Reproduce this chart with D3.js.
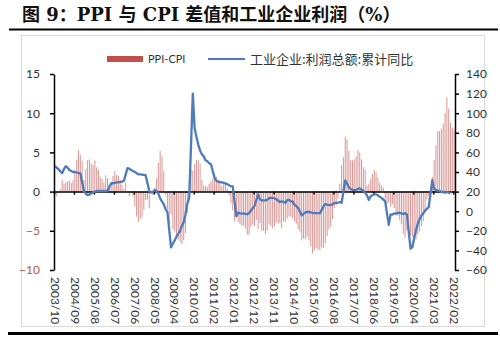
<!DOCTYPE html>
<html><head><meta charset="utf-8">
<script src="https://cdn.jsdelivr.net/npm/d3@7"></script>
<style>
html,body{margin:0;padding:0;background:#fff;}
svg{display:block;}
</style></head>
<body>
<svg id="chart" width="500" height="338"></svg>
<script>
// ---------- data ----------
const startYear = 2003, startMonth = 10, endYear = 2022, endMonth = 2;
const titleText = "图 9：PPI 与 CPI 差值和工业企业利润（%）";
const seriesNames = ["PPI-CPI", "工业企业:利润总额:累计同比"];
const leftTicks = [-10, -5, 0, 5, 10, 15];
const rightTicks = [-60, -40, -20, 0, 20, 40, 60, 80, 100, 120, 140];

// PPI-CPI (left axis), monthly 2003/10 .. 2022/02
const ppiCpi = [
  -0.3, -0.6, -0.2,
  0.3, 1.5, 1.0, 1.2, 1.3, 1.4, 1.1, 1.5, 2.7, 4.1, 5.3, 4.7,
  3.9, 1.5, 2.9, 4.0, 4.1, 3.6, 3.4, 4.0, 3.1, 2.8, 1.9, 1.6,
  1.1, 2.1, 1.7, 0.7, 1.0, 2.0, 2.6, 2.1, 2.0, 1.5, 0.9, 0.3,
  1.1, -0.1, -0.6, -0.1, -0.6, -1.9, -3.2, -3.9, -3.5, -3.3, -2.3, -1.1,
  -1.0, -2.1, -0.3, -0.4, 0.5, 1.7, 3.7, 5.2, 4.5, 2.6, -0.4, -2.3,
  -4.3, -2.9, -4.8, -5.1, -5.8, -6.1, -6.4, -6.7, -6.2, -5.3, -2.7, -0.2,
  2.8, 2.7, 3.5, 4.0, 4.0, 3.5, 1.5, 0.8, 0.7, 0.6, 1.0, 1.3,
  1.7, 2.3, 1.9, 1.5, 1.3, 0.7, 1.0, 1.1, 0.4, -0.5, -1.5, -2.4,
  -3.8, -3.2, -3.9, -4.1, -4.4, -4.3, -4.7, -5.5, -5.5, -4.5, -4.2, -4.4,
  -3.6, -4.8, -4.0, -5.0, -5.0, -5.4, -5.0, -4.2, -4.4, -4.7, -4.4, -3.9,
  -4.1, -4.0, -4.7, -3.8, -3.9, -3.4, -3.2, -3.2, -3.4, -3.8, -4.1, -4.8,
  -5.1, -6.2, -6.0, -6.1, -5.8, -6.2, -7.0, -7.9, -7.5, -7.2, -7.4, -7.5,
  -7.1, -7.2, -6.6, -5.7, -4.8, -4.5, -3.5, -2.1, -1.8, -0.9, 1.0, 3.4,
  4.4, 7.0, 6.7, 5.2, 4.0, 4.0, 4.1, 4.5, 5.3, 5.0, 4.1, 3.1,
  2.8, 0.8, 1.0, 1.6, 2.3, 2.8, 2.5, 1.8, 1.1, 0.8, 0.5, -1.0,
  -1.6, -1.4, -1.9, -1.6, -2.1, -2.7, -3.1, -3.6, -4.2, -5.4, -5.9, -5.0,
  -5.3, -5.6, -5.8, -6.4, -6.1, -5.5, -5.1, -4.4, -3.8, -2.6, -1.0, -0.6,
  0.6, 1.9, 4.0, 5.9, 7.7, 7.7, 8.0, 8.7, 10.0, 12.0, 10.6, 8.8,
  8.2, 7.9
];

// Industrial profit, cumulative YoY (right axis); January not published (null)
const profit = [
  46, 44.5, 42.7,
  null, 38.7, 43, 46, 44.5, 42, 41, 40, 40, 39.5, 39, 38.7,
  null, 20.5, 18, 16.5, 17, 18, 19, 20, 20.6, 20.6, 20.6, 20.6,
  null, 20.6, 21, 25, 28.5, 28.5, 29, 29.5, 29.5, 30, 30, 31,
  null, 44, 43.5, 42, 41, 40, 39, 37.6, 37.5, 37.3, 37, 36.7,
  null, 20.6, 19.2, 19.5, 21.6, 20.9, 18, 13, 10, 7, 2, -1,
  null, -37, -33, -30, -26, -23, -20, -15, -11, -3, 7.8, 13,
  null, 120, 85, 76, 68, 62, 58, 56, 52, 51, 49, 48,
  null, 34, 31, 30, 29.8, 29.5, 29, 28.5, 27.5, 26.5, 25.5, 25.4,
  null, -5.2, -1.3, -2.2, -2.4, -2.2, -2.7, -3.1, -1.8, 0.5, 3.0, 5.3,
  null, 17.2, 12.1, 10.9, 11.1, 11.1, 11.6, 13.3, 13.5, 13.7, 13.2, 12.2,
  null, 9.4, 10.1, 9.6, 8.6, 11.4, 11.6, 10.0, 10.0, 6.7, 5.3, 3.3,
  null, -4.2, -2.7, -1.3, -0.8, -0.7, -1.0, -1.9, -1.7, -2.0, -1.9, -2.3,
  null, 4.8, 7.4, 6.5, 6.4, 6.2, 6.9, 8.4, 8.4, 8.6, 9.4, 8.5,
  null, 31.5, 28.3, 24.4, 22.7, 22.0, 21.6, 21.6, 22.8, 23.3, 21.9, 21.0,
  null, 16.1, 11.6, 15.0, 16.5, 17.2, 17.1, 16.2, 14.7, 13.6, 11.8, 10.3,
  null, -14.0, -3.3, -3.4, -2.3, -2.4, -1.7, -1.7, -2.1, -2.9, -2.1, -3.3,
  null, -38.3, -36.7, -27.4, -19.3, -12.8, -8.1, -4.4, -2.4, 0.7, 2.4, 4.1,
  null, 31.6, 22.6, 21.7, 21.0, 20.6, 19.5, 19.7, 18.8, 19.7, 19.0, 18.2,
  null, null
];

// month categories
const categories = [];
for (let y = startYear, m = startMonth; y < endYear || (y === endYear && m <= endMonth); ) {
  categories.push(y + "/" + String(m).padStart(2, "0"));
  m++; if (m > 12) { m = 1; y++; }
}
const labelStep = 11;

// ---------- layout ----------
const svg = d3.select("#chart");
const plotL = 54, plotR = 455, plotT = 74, plotB = 270;
const latin = "Lato, 'Liberation Sans', Arial, sans-serif";
const cjk = "'Noto Sans CJK SC', 'Noto Sans', sans-serif";

// Title
svg.append("text").attr("x", 22).attr("y", 21)
  .attr("font-family", "'DejaVu Serif', 'Noto Sans CJK SC', serif")
  .attr("font-weight", "bold").attr("font-size", 18).attr("fill", "#111")
  .text(titleText);
svg.append("rect").attr("x", 9).attr("y", 28.5).attr("width", 489).attr("height", 2).attr("fill", "#000");
// chart box
svg.append("rect").attr("x", 21.5).attr("y", 35.5).attr("width", 463).attr("height", 291)
  .attr("fill", "none").attr("stroke", "#d9d9d9").attr("stroke-width", 1);
svg.append("rect").attr("x", 8).attr("y", 332).attr("width", 490).attr("height", 3).attr("fill", "#000");

// scales
const x = d3.scaleBand().domain(categories).range([plotL, plotR]).paddingInner(0.45).paddingOuter(0.225);
const xi = d3.scaleLinear().domain([0, categories.length]).range([plotL, plotR]);
const yL = d3.scaleLinear().domain([-10, 15]).range([plotB, plotT]);
const yR = d3.scaleLinear().domain([-60, 140]).range([plotB, plotT]);
const cx = c => x(c) + x.bandwidth() / 2;

// bars
svg.append("g").selectAll("rect").data(categories.map((c, i) => ({c, v: ppiCpi[i]})))
  .join("rect")
  .attr("x", d => x(d.c)).attr("width", x.bandwidth())
  .attr("y", d => Math.min(yL(d.v), yL(0)))
  .attr("height", d => Math.abs(yL(d.v) - yL(0)))
  .attr("fill", "#c0504d").attr("fill-opacity", 0.6);

// zero axis line with ticks
const xAxis = d3.axisBottom(xi).tickValues(d3.range(0, categories.length + 1, labelStep))
  .tickFormat("").tickSize(3).tickSizeOuter(0);
const gx = svg.append("g").attr("transform", `translate(0,${yL(0)})`).call(xAxis);
gx.select(".domain").attr("stroke", "#000").attr("stroke-width", 1.5);
gx.selectAll(".tick line").attr("stroke", "#000").attr("stroke-width", 1.5);

// line
const pts = categories.map((c, i) => ({c, v: profit[i]})).filter(d => d.v !== null);
svg.append("path").datum(pts)
  .attr("fill", "none").attr("stroke", "#4f7bbb").attr("stroke-width", 2.3)
  .attr("stroke-linejoin", "round")
  .attr("d", d3.line().x(d => cx(d.c)).y(d => yR(d.v)));

// left axis
const gl = svg.append("g").attr("transform", `translate(${plotL},0)`)
  .call(d3.axisLeft(yL).tickValues(leftTicks).tickSize(4).tickSizeOuter(0).tickPadding(10));
gl.select(".domain").attr("stroke", "#000").attr("stroke-width", 1.5);
gl.selectAll(".tick line").attr("stroke", "#000").attr("stroke-width", 1.5);
gl.selectAll(".tick text").attr("font-family", latin).attr("font-size", 12)
  .attr("fill", d => d < 0 ? "#c0504d" : "#333");

// right axis
const gr = svg.append("g").attr("transform", `translate(${plotR},0)`)
  .call(d3.axisRight(yR).tickValues(rightTicks).tickSize(4).tickSizeOuter(0).tickPadding(7));
gr.select(".domain").attr("stroke", "#000").attr("stroke-width", 1.5);
gr.selectAll(".tick line").attr("stroke", "#000").attr("stroke-width", 1.5);
gr.selectAll(".tick text").attr("font-family", latin).attr("font-size", 12).attr("fill", "#333");

// category labels (rotated)
const labelCats = categories.filter((c, i) => i % labelStep === 0);
svg.append("g").selectAll("text").data(labelCats).join("text")
  .attr("transform", d => `translate(${cx(d)},277) rotate(90)`)
  .attr("dy", "0.35em").attr("text-anchor", "start")
  .attr("font-family", latin).attr("font-size", 12).attr("fill", "#333")
  .text(d => d);

// legend
const lg = svg.append("g");
lg.append("rect").attr("x", 107).attr("y", 56).attr("width", 36).attr("height", 6).attr("fill", "#c0504d");
lg.append("text").attr("x", 148).attr("y", 59).attr("dy", "0.35em")
  .attr("font-family", latin).attr("font-size", 11).attr("fill", "#333").text(seriesNames[0]);
lg.append("line").attr("x1", 208).attr("x2", 245).attr("y1", 59).attr("y2", 59)
  .attr("stroke", "#4f7bbb").attr("stroke-width", 1.8);
lg.append("text").attr("x", 250).attr("y", 59).attr("dy", "0.35em")
  .attr("font-family", cjk).attr("font-size", 13).attr("fill", "#333").text(seriesNames[1]);
</script>
</body></html>
